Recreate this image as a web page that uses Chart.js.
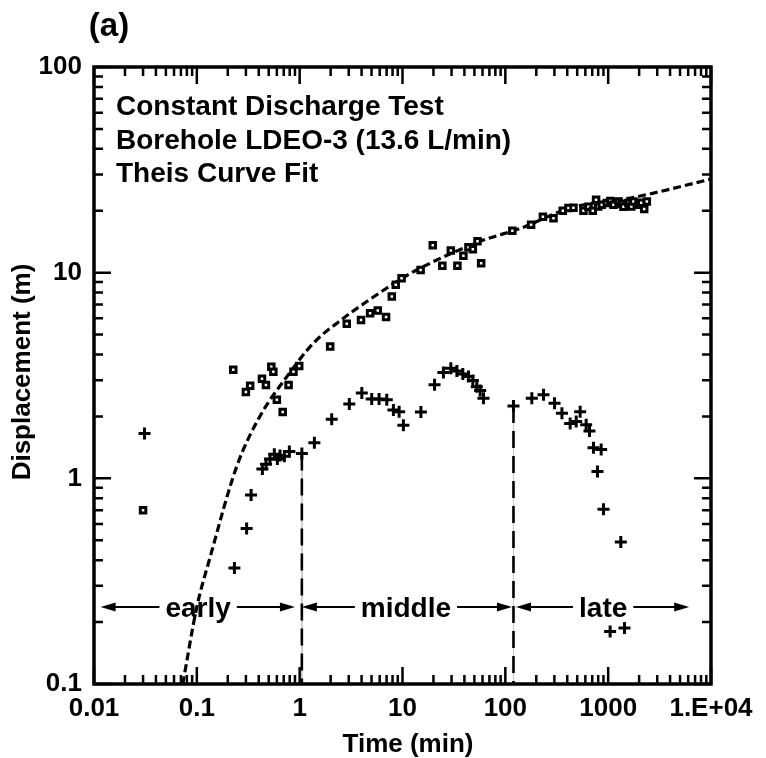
<!DOCTYPE html>
<html>
<head>
<meta charset="utf-8">
<script src="https://cdn.jsdelivr.net/npm/chart.js@4.4.0/dist/chart.umd.min.js"></script>
<style>
  html, body { margin: 0; padding: 0; background: #fff; }
  canvas { display: block; }
</style>
</head>
<body>
<canvas id="theisChart" width="766" height="758"></canvas>
<script>
// Displacement data (time in min, displacement in m)
const squareTime = [0.030, 0.226, 0.30, 0.33, 0.43, 0.47, 0.53, 0.555, 0.60, 0.684, 0.78, 0.87, 0.99,
  1.98, 2.87, 3.95, 4.84, 5.75, 6.92, 7.87, 8.6, 9.8, 15.0, 19.7, 24.4, 29.5, 34.2, 39.1, 43.8, 48.3,
  53.6, 58.2, 117, 178, 232, 294, 362, 411, 460, 575, 643, 709, 763, 800, 867, 970, 1050, 1126, 1260,
  1350, 1409, 1575, 1680, 1762, 1972, 2100, 2240, 2377];
const squareDisp = [0.70, 3.37, 2.63, 2.82, 3.05, 2.84, 3.49, 3.30, 2.41, 2.10, 2.84, 3.30, 3.52,
  4.37, 5.64, 5.89, 6.35, 6.54, 6.08, 7.65, 8.73, 9.4, 10.3, 13.6, 10.8, 12.8, 10.8, 12.1, 13.3, 13.0,
  14.2, 11.1, 16.0, 17.1, 18.7, 18.4, 20.0, 20.6, 20.7, 20.0, 20.9, 20.0, 22.6, 21.0, 21.4, 21.8, 22.3, 21.4, 22.2,
  21.6, 20.9, 21.8, 21.0, 22.2, 21.4, 21.9, 20.4, 22.2];

const crossTime = [0.031, 0.232, 0.305, 0.337, 0.434, 0.471, 0.515, 0.567, 0.607, 0.644, 0.71, 0.794,
  1.05, 1.39, 2.05, 3.04, 4.02, 5.02, 5.92, 7.03, 8.16, 9.27, 10.2, 15.1, 20.5, 25.0, 29.5, 33.8, 38.6,
  43.8, 48.3, 52.8, 56.9, 61.3, 120, 181, 235, 301, 355, 427, 489, 534, 611, 658, 720, 855, 787, 901,
  1327, 1045, 1442];
const crossDisp = [1.65, 0.366, 0.57, 0.83, 1.11, 1.17, 1.24, 1.31, 1.24, 1.29, 1.28, 1.35,
  1.32, 1.49, 1.94, 2.30, 2.60, 2.43, 2.43, 2.41, 2.15, 2.11, 1.81, 2.10, 2.85, 3.27, 3.43, 3.33, 3.22,
  3.13, 2.99, 2.79, 2.67, 2.45, 2.25, 2.45, 2.55, 2.32, 2.07, 1.85, 1.89, 2.11, 1.82, 1.70, 1.41, 1.38, 1.08, 0.708,
  0.49, 0.18, 0.187];

// Theis curve fit, read point by point
const theisTime = [0.073, 0.10, 0.134, 0.244, 0.41, 0.75, 1.36, 2.66, 4.8, 8.8, 13.7, 57, 139, 427, 1900, 10000];
const theisDisp = [0.1, 0.237, 0.41, 1.14, 2.0, 3.12, 4.54, 6.0, 7.4, 9.05, 10.3, 14.2, 16.4, 20.6, 23.4, 28.5];

// phase boundaries (dashed lines) and phase labels
const boundaryTime = [1.05, 120];
const boundaryTop = [1.32, 2.25];
const phaseNames = ['early', 'middle', 'late'];
const phaseStart = [0.0116, 1.05, 127];
const phaseEnd = [0.90, 116, 6140];
const phaseLabelTime = [0.103, 10.8, 894];
const phaseLevel = 0.237;

const xTickValues = [0.01, 0.1, 1, 10, 100, 1000, 10000];
const xTickLabels = ['0.01', '0.1', '1', '10', '100', '1000', '1.E+04'];
const yTickValues = [0.1, 1, 10, 100];
const yTickLabels = ['0.1', '1', '10', '100'];

const legendLines = ['Constant Discharge Test', 'Borehole LDEO-3 (13.6 L/min)', 'Theis Curve Fit'];

const FONT = '"Liberation Sans", Arial, Helvetica, sans-serif';
Chart.defaults.font.family = FONT;
Chart.defaults.font.weight = 'bold';
Chart.defaults.color = '#000';

function toPoints(xs, ys) {
    return xs.map((x, i) => ({ x: x, y: ys[i] }));
}

// note: earlier datasets end up drawn on top
const datasets = [];
datasets.push({
    data: toPoints(squareTime, squareDisp),
    pointStyle: 'rect', pointRadius: 3.9, borderWidth: 3,
    borderColor: '#000', backgroundColor: '#fff', showLine: false
});
datasets.push({
    data: toPoints(crossTime, crossDisp),
    pointStyle: 'cross', pointRadius: 6, borderWidth: 3,
    borderColor: '#000', showLine: false
});
datasets.push({
    data: toPoints(theisTime, theisDisp),
    showLine: true, pointRadius: 0, borderColor: '#000', borderWidth: 3.2,
    borderDash: [8, 4], cubicInterpolationMode: 'monotone', fill: false
});
for (let i = 0; i < boundaryTime.length; i++) {
    const pts = [{ x: boundaryTime[i], y: boundaryTop[i] }, { x: boundaryTime[i], y: 0.1 }];
    datasets.push({ data: pts, showLine: true, pointRadius: 0, borderColor: '#000', borderWidth: 2.6, borderDash: [17, 8] });
    datasets.push({ data: pts, showLine: true, pointRadius: 0, borderColor: '#c8c8c8', borderWidth: 1 });
}

function arrow(ctx, x1, x2, y) {
    // line from x1 to x2 with head at x2
    const dir = x2 > x1 ? 1 : -1;
    ctx.beginPath();
    ctx.moveTo(x1, y);
    ctx.lineTo(x2 - dir * 12, y);
    ctx.stroke();
    ctx.beginPath();
    ctx.moveTo(x2, y);
    ctx.lineTo(x2 - dir * 15, y - 4.5);
    ctx.lineTo(x2 - dir * 15, y + 4.5);
    ctx.closePath();
    ctx.fill();
}

const framePlugin = {
    id: 'frame',
    afterDraw(chart) {
        const ctx = chart.ctx;
        const { left, right, top, bottom } = chart.chartArea;
        const xs = chart.scales.x, ys = chart.scales.y;
        ctx.save();
        ctx.strokeStyle = '#000';
        ctx.fillStyle = '#000';

        // inward ticks on all four sides
        ctx.lineWidth = 2.5;
        for (let e = -2; e <= 4; e++) {
            for (let m = 1; m < 10; m++) {
                const v = m * Math.pow(10, e);
                if (v > 10000 * 1.0001) break;
                const len = m === 1 ? 17 : 9;
                const px = xs.getPixelForValue(v);
                ctx.beginPath();
                ctx.moveTo(px, bottom); ctx.lineTo(px, bottom - len);
                ctx.moveTo(px, top); ctx.lineTo(px, top + len);
                ctx.stroke();
            }
        }
        for (let e = -1; e <= 2; e++) {
            for (let m = 1; m < 10; m++) {
                const v = m * Math.pow(10, e);
                if (v > 100 * 1.0001) break;
                const len = m === 1 ? 17 : 9;
                const py = ys.getPixelForValue(v);
                ctx.beginPath();
                ctx.moveTo(left, py); ctx.lineTo(left + len, py);
                ctx.moveTo(right, py); ctx.lineTo(right - len, py);
                ctx.stroke();
            }
        }

        // frame
        ctx.lineWidth = 3.5;
        ctx.strokeRect(left, top, right - left, bottom - top);

        // phase arrows and labels
        const yArrow = ys.getPixelForValue(phaseLevel);
        ctx.font = 'bold 28px ' + FONT;
        ctx.textAlign = 'center';
        ctx.textBaseline = 'alphabetic';
        ctx.lineWidth = 2;
        for (let i = 0; i < phaseNames.length; i++) {
            const cx = xs.getPixelForValue(phaseLabelTime[i]);
            const w = ctx.measureText(phaseNames[i]).width;
            ctx.fillText(phaseNames[i], cx, yArrow + 10);
            arrow(ctx, cx - w / 2 - 6, xs.getPixelForValue(phaseStart[i]), yArrow);
            arrow(ctx, cx + w / 2 + 6, xs.getPixelForValue(phaseEnd[i]), yArrow);
        }

        // legend text block
        ctx.textAlign = 'left';
        ctx.font = 'bold 28px ' + FONT;
        legendLines.forEach((line, i) => ctx.fillText(line, 116, 115 + i * 33.5));

        // panel label
        ctx.textAlign = 'center';
        ctx.textBaseline = 'middle';
        ctx.font = 'bold 33px ' + FONT;
        ctx.fillText('(a)', 109, 27);

        // axis titles
        ctx.font = 'bold 26px ' + FONT;
        ctx.fillText('Time (min)', 408, 745);
        ctx.translate(23, 372);
        ctx.rotate(-Math.PI / 2);
        ctx.fillText('Displacement (m)', 0, 0);
        ctx.restore();
    }
};

const ctx = document.getElementById('theisChart').getContext('2d');
const myChart = new Chart(ctx, {
    type: 'scatter',
    data: { datasets: datasets },
    options: {
        responsive: false,
        animation: false,
        layout: { padding: { top: 67, right: 55, left: 0, bottom: 0 } },
        plugins: {
            legend: { display: false },
            tooltip: { enabled: false }
        },
        scales: {
            x: {
                type: 'logarithmic',
                min: 0.01,
                max: 10000,
                grid: { display: false, drawTicks: false },
                border: { display: false },
                afterBuildTicks: (scale) => { scale.ticks = xTickValues.map(v => ({ value: v })); },
                afterFit: (scale) => { scale.height = 74; },
                ticks: {
                    autoSkip: false,
                    maxRotation: 0,
                    padding: 9,
                    color: '#000',
                    font: { size: 26, weight: 'bold' },
                    callback: (v) => xTickLabels[xTickValues.indexOf(v)]
                }
            },
            y: {
                type: 'logarithmic',
                min: 0.1,
                max: 100,
                grid: { display: false, drawTicks: false },
                border: { display: false },
                afterBuildTicks: (scale) => { scale.ticks = yTickValues.map(v => ({ value: v })); },
                afterFit: (scale) => { scale.width = 94; },
                ticks: {
                    autoSkip: false,
                    padding: 12,
                    color: '#000',
                    font: { size: 26, weight: 'bold' },
                    callback: (v) => yTickLabels[yTickValues.indexOf(v)]
                }
            }
        }
    },
    plugins: [framePlugin]
});
</script>
</body>
</html>
